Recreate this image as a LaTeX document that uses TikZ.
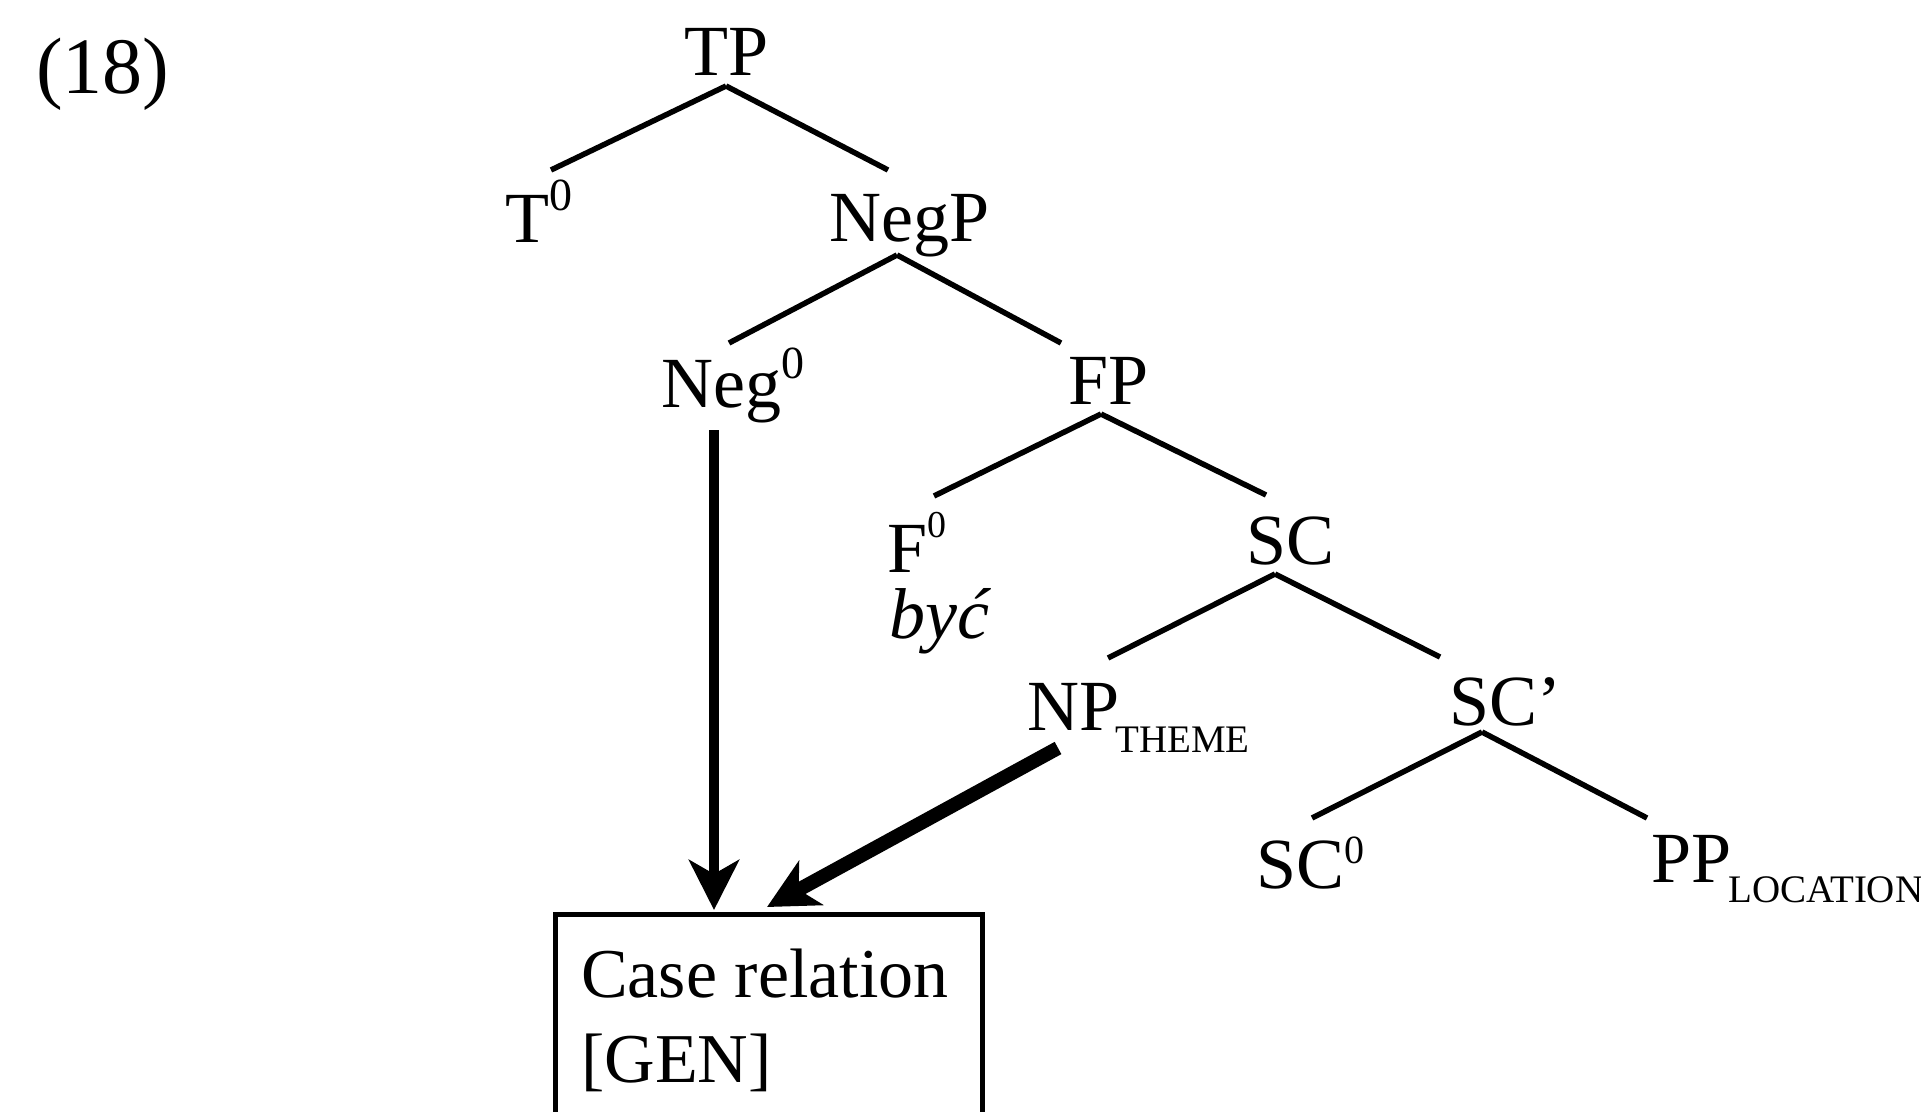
\documentclass[tikz,border=0pt]{standalone}
\usepackage{fontspec}
\setmainfont{Liberation Serif}
\usetikzlibrary{arrows.meta,calc}

% label fonts
\newcommand\treefont{\fontsize{72}{86}\selectfont}
\newcommand\exfont{\fontsize{80}{96}\selectfont}
\newcommand\boxfont{\fontsize{70}{85}\selectfont}
% raised zero: #1 raise, #2 size
\newcommand\supzero[2]{\raisebox{#1pt}{\fontsize{#2}{#2}\selectfont 0}}
% lowered capital subscript: #1 drop, #2 text
\newcommand\capsub[2]{\lower#1pt\hbox{\fontsize{39}{39}\selectfont #2}}

\begin{document}
\begin{tikzpicture}[x=1pt,y=-1pt,
  lab/.style={inner sep=0pt, anchor=base west, font=\treefont},
  edge/.style={line width=5.5pt},
  caserel/.style={line width=#1, -{Stealth[length=50pt,width=50pt,inset=14pt]}},
  framebox/.style={draw, line width=4.5pt, inner sep=0pt, anchor=north west}
]
\useasboundingbox (0,0) rectangle (1921,1111);
\clip (0,0) rectangle (1921,1111);

% example number
\node[lab, font=\exfont] (ex) at (36,93) {(18)};

% tree labels
\node[lab] (tp)   at (684,75)   {TP};
\node[lab] (t0)   at (505,242)  {T\supzero{32}{46}};
\node[lab] (negp) at (829,241)  {NegP};
\node[lab] (neg0) at (661,407)  {Neg\supzero{29}{46}};
\node[lab] (fp)   at (1068,404) {FP};
\node[lab] (f0)   at (887,572)  {F\supzero{35}{38}};
\node[lab, font=\treefont\itshape] (byc) at (889,638) {być};
\node[lab] (sc)   at (1246,564) {SC};
\node[lab] (np)   at (1027,730) {NP\kern-4pt\capsub{22}{THEME}};
\node[lab] (scb)  at (1449,725) {SC’};
\node[lab] (sc0)  at (1256,888) {SC\supzero{25}{40}};
\node[lab] (pp)   at (1651,882) {PP\kern-3pt\capsub{20}{LOCATION}};

% case box (the base anchor of the two-line text is its last baseline)
\node[framebox, minimum width=427pt, minimum height=240pt] (box) at (553,912) {};
\node[inner sep=0pt, anchor=base west, font=\boxfont, align=left] (boxtext) at (581,1082)
  {Case relation\\{}[GEN]};

% branches
\draw[edge] ($(tp.base west)+(42,11)$)   -- ($(t0.base west)+(46,-72)$);
\draw[edge] ($(tp.base west)+(42,11)$)   -- ($(negp.base west)+(59,-71)$);
\draw[edge] ($(negp.base west)+(68,14)$) -- ($(neg0.base west)+(68,-64)$);
\draw[edge] ($(negp.base west)+(68,14)$) -- ($(fp.base west)+(-7,-61)$);
\draw[edge] ($(fp.base west)+(33,10)$)   -- ($(f0.base west)+(47,-76)$);
\draw[edge] ($(fp.base west)+(33,10)$)   -- ($(sc.base west)+(20,-69)$);
\draw[edge] ($(sc.base west)+(29,10)$)   -- ($(np.base west)+(81,-72)$);
\draw[edge] ($(sc.base west)+(29,10)$)   -- ($(scb.base west)+(-9,-68)$);
\draw[edge] ($(scb.base west)+(33,7)$)   -- ($(sc0.base west)+(56,-70)$);
\draw[edge] ($(scb.base west)+(33,7)$)   -- ($(pp.base west)+(-4,-64)$);

% case arrows into the box
\draw[caserel=10pt] ($(neg0.base west)+(53,23)$) -- ($(box.north west)+(161,-2)$);
\draw[caserel=14pt] ($(np.base west)+(31,18)$)   -- ($(box.north west)+(214,-5)$);
\end{tikzpicture}
\end{document}
